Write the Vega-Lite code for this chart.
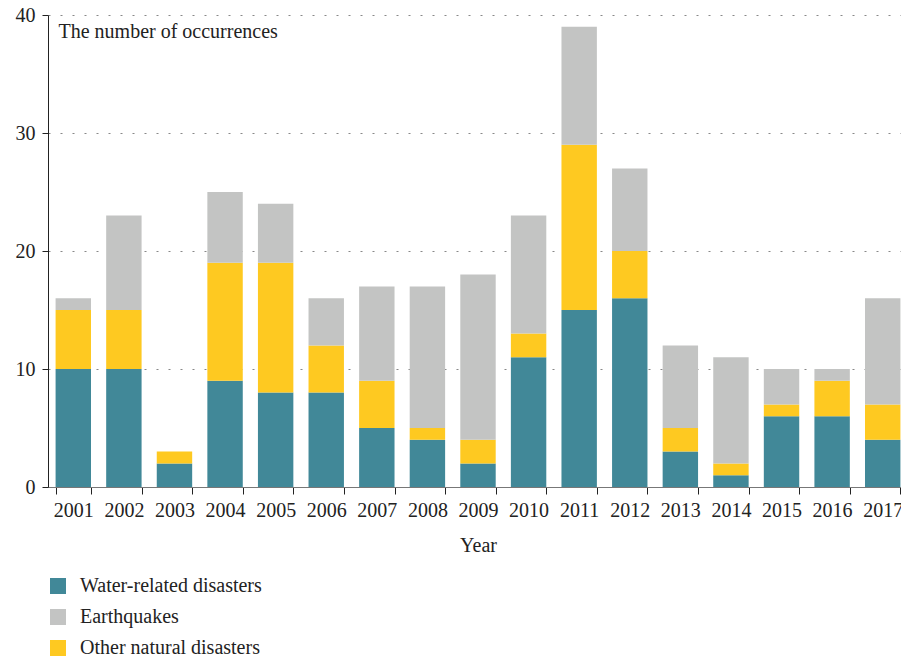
{
  "$schema": "https://vega.github.io/schema/vega-lite/v6.json",
  "width": 860,
  "height": 472,
  "padding": {"left": 15, "top": 5, "right": 5, "bottom": 5},
  "background": "white",
  "config": {
    "font": "Liberation Serif",
    "view": {"stroke": null},
    "axis": {"labelFont": "Liberation Serif", "titleFont": "Liberation Serif", "labelColor": "#222", "titleColor": "#222", "labelFontSize": 20, "titleFontSize": 20, "titleFontWeight": "normal"},
    "legend": {"labelFont": "Liberation Serif", "labelFontSize": 20, "labelColor": "#222", "labelLimit": 0}
  },
  "data": {"values": [
    {"Year": "2001", "Type": "Water-related disasters", "Count": 10, "Ord": 1},
    {"Year": "2001", "Type": "Other natural disasters", "Count": 5, "Ord": 2},
    {"Year": "2001", "Type": "Earthquakes", "Count": 1, "Ord": 3},
    {"Year": "2002", "Type": "Water-related disasters", "Count": 10, "Ord": 1},
    {"Year": "2002", "Type": "Other natural disasters", "Count": 5, "Ord": 2},
    {"Year": "2002", "Type": "Earthquakes", "Count": 8, "Ord": 3},
    {"Year": "2003", "Type": "Water-related disasters", "Count": 2, "Ord": 1},
    {"Year": "2003", "Type": "Other natural disasters", "Count": 1, "Ord": 2},
    {"Year": "2003", "Type": "Earthquakes", "Count": 0, "Ord": 3},
    {"Year": "2004", "Type": "Water-related disasters", "Count": 9, "Ord": 1},
    {"Year": "2004", "Type": "Other natural disasters", "Count": 10, "Ord": 2},
    {"Year": "2004", "Type": "Earthquakes", "Count": 6, "Ord": 3},
    {"Year": "2005", "Type": "Water-related disasters", "Count": 8, "Ord": 1},
    {"Year": "2005", "Type": "Other natural disasters", "Count": 11, "Ord": 2},
    {"Year": "2005", "Type": "Earthquakes", "Count": 5, "Ord": 3},
    {"Year": "2006", "Type": "Water-related disasters", "Count": 8, "Ord": 1},
    {"Year": "2006", "Type": "Other natural disasters", "Count": 4, "Ord": 2},
    {"Year": "2006", "Type": "Earthquakes", "Count": 4, "Ord": 3},
    {"Year": "2007", "Type": "Water-related disasters", "Count": 5, "Ord": 1},
    {"Year": "2007", "Type": "Other natural disasters", "Count": 4, "Ord": 2},
    {"Year": "2007", "Type": "Earthquakes", "Count": 8, "Ord": 3},
    {"Year": "2008", "Type": "Water-related disasters", "Count": 4, "Ord": 1},
    {"Year": "2008", "Type": "Other natural disasters", "Count": 1, "Ord": 2},
    {"Year": "2008", "Type": "Earthquakes", "Count": 12, "Ord": 3},
    {"Year": "2009", "Type": "Water-related disasters", "Count": 2, "Ord": 1},
    {"Year": "2009", "Type": "Other natural disasters", "Count": 2, "Ord": 2},
    {"Year": "2009", "Type": "Earthquakes", "Count": 14, "Ord": 3},
    {"Year": "2010", "Type": "Water-related disasters", "Count": 11, "Ord": 1},
    {"Year": "2010", "Type": "Other natural disasters", "Count": 2, "Ord": 2},
    {"Year": "2010", "Type": "Earthquakes", "Count": 10, "Ord": 3},
    {"Year": "2011", "Type": "Water-related disasters", "Count": 15, "Ord": 1},
    {"Year": "2011", "Type": "Other natural disasters", "Count": 14, "Ord": 2},
    {"Year": "2011", "Type": "Earthquakes", "Count": 10, "Ord": 3},
    {"Year": "2012", "Type": "Water-related disasters", "Count": 16, "Ord": 1},
    {"Year": "2012", "Type": "Other natural disasters", "Count": 4, "Ord": 2},
    {"Year": "2012", "Type": "Earthquakes", "Count": 7, "Ord": 3},
    {"Year": "2013", "Type": "Water-related disasters", "Count": 3, "Ord": 1},
    {"Year": "2013", "Type": "Other natural disasters", "Count": 2, "Ord": 2},
    {"Year": "2013", "Type": "Earthquakes", "Count": 7, "Ord": 3},
    {"Year": "2014", "Type": "Water-related disasters", "Count": 1, "Ord": 1},
    {"Year": "2014", "Type": "Other natural disasters", "Count": 1, "Ord": 2},
    {"Year": "2014", "Type": "Earthquakes", "Count": 9, "Ord": 3},
    {"Year": "2015", "Type": "Water-related disasters", "Count": 6, "Ord": 1},
    {"Year": "2015", "Type": "Other natural disasters", "Count": 1, "Ord": 2},
    {"Year": "2015", "Type": "Earthquakes", "Count": 3, "Ord": 3},
    {"Year": "2016", "Type": "Water-related disasters", "Count": 6, "Ord": 1},
    {"Year": "2016", "Type": "Other natural disasters", "Count": 3, "Ord": 2},
    {"Year": "2016", "Type": "Earthquakes", "Count": 1, "Ord": 3},
    {"Year": "2017", "Type": "Water-related disasters", "Count": 4, "Ord": 1},
    {"Year": "2017", "Type": "Other natural disasters", "Count": 3, "Ord": 2},
    {"Year": "2017", "Type": "Earthquakes", "Count": 9, "Ord": 3}
  ]},
  "mark": {"type": "bar"},
  "encoding": {
    "x": {
      "field": "Year", "type": "ordinal", "title": "Year",
      "scale": {"paddingInner": 0.3, "paddingOuter": 0.15},
      "axis": {"labelAngle": 0, "tickBand": "extent", "tickSize": 7, "tickColor": "#222", "domainColor": "#777", "labelPadding": 6, "titleY": 48, "grid": false}
    },
    "y": {
      "field": "Count", "type": "quantitative", "stack": "zero",
      "scale": {"domain": [0, 40], "nice": false},
      "axis": {
        "values": [0, 10, 20, 30, 40], "title": "The number of occurrences",
        "titleAngle": 0, "titleAlign": "left", "titleBaseline": "middle", "titleX": 10, "titleY": 16,
        "tickSize": 6, "tickColor": "#222", "domainColor": "#222", "labelPadding": 7,
        "grid": true, "gridColor": "#888", "gridDash": [2, 10], "gridWidth": 1.2
      }
    },
    "color": {
      "field": "Type", "type": "nominal",
      "scale": {"domain": ["Water-related disasters", "Earthquakes", "Other natural disasters"], "range": ["#418898", "#c3c4c3", "#fec921"]},
      "legend": {"title": null, "orient": "none", "legendX": 0, "legendY": 561, "symbolType": "square", "symbolSize": 256, "symbolStrokeWidth": 0, "rowPadding": 11, "labelOffset": 12}
    },
    "order": {"field": "Ord", "type": "quantitative"}
  }
}
